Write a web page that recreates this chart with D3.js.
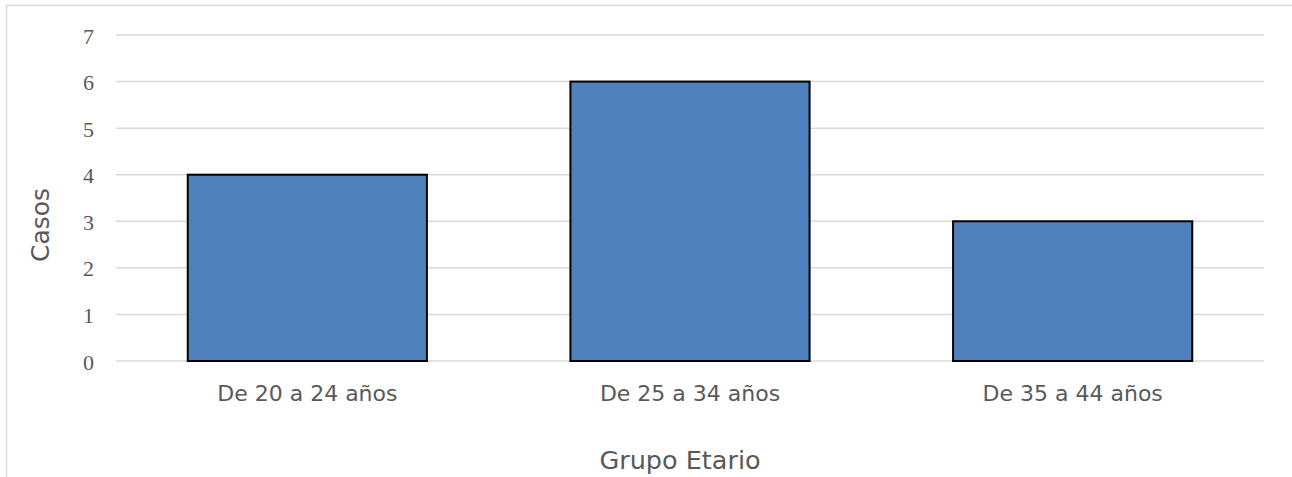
<!DOCTYPE html>
<html>
<head>
<script type="text/javascript" src="https://cdn.jsdelivr.net/npm/d3@7"></script>
<style>
  body { margin: 0; background: #fff; }
</style>
</head>
<body>
<script type="text/javascript">
  var w = 1292, h = 477;
  var categories = ["De 20 a 24 años", "De 25 a 34 años", "De 35 a 44 años"];
  var values = [4, 6, 3];
  var yTicks = [0, 1, 2, 3, 4, 5, 6, 7];
  var xTitle = "Grupo Etario";
  var yTitle = "Casos";

  var plot = { left: 116, right: 1264, top: 35, bottom: 361 };
  var sans = "'Century Gothic', 'DejaVu Sans', sans-serif";

  var svg = d3.select("body").append("svg")
    .attr("width", w)
    .attr("height", h);

  // chart frame
  svg.append("rect")
    .attr("x", 6.5).attr("y", 5.5)
    .attr("width", w + 10).attr("height", h + 10)
    .attr("fill", "none")
    .attr("stroke", "#d9d9d9")
    .attr("stroke-width", 1.5);

  var xScale = d3.scaleBand()
    .domain(categories)
    .range([plot.left, plot.right])
    .paddingInner(0.375)
    .paddingOuter(0.1875);

  var yScale = d3.scaleLinear()
    .domain([0, 7])
    .range([plot.bottom, plot.top]);

  // gridlines
  svg.append("g")
    .selectAll("line")
    .data(yTicks)
    .enter().append("line")
    .attr("x1", plot.left).attr("x2", plot.right)
    .attr("y1", function (d) { return yScale(d); })
    .attr("y2", function (d) { return yScale(d); })
    .attr("stroke", "#d9d9d9")
    .attr("stroke-width", 1.5);

  // y tick labels
  var yAxis = d3.axisLeft(yScale).tickValues(yTicks).tickFormat(d3.format("d"))
    .tickSize(0).tickPadding(0);
  svg.append("g")
    .attr("transform", "translate(94,1)")
    .call(yAxis)
    .call(function (g) {
      g.select(".domain").remove();
      g.selectAll(".tick text")
        .attr("fill", "#595959")
        .attr("font-family", "'Liberation Serif', 'DejaVu Serif', serif")
        .attr("font-size", "22px");
    });

  // bars
  svg.append("g")
    .selectAll("rect")
    .data(values)
    .enter().append("rect")
    .attr("x", function (d, i) { return xScale(categories[i]); })
    .attr("y", function (d) { return yScale(d); })
    .attr("width", xScale.bandwidth())
    .attr("height", function (d) { return yScale(0) - yScale(d); })
    .attr("fill", "#4f81bd")
    .attr("stroke", "#000")
    .attr("stroke-width", 2);

  // x tick labels
  var xAxis = d3.axisBottom(xScale).tickSize(0).tickPadding(0);
  svg.append("g")
    .attr("transform", "translate(0,401)")
    .call(xAxis)
    .call(function (g) {
      g.select(".domain").remove();
      g.selectAll(".tick text")
        .attr("dy", 0)
        .attr("fill", "#595959")
        .attr("font-family", sans)
        .attr("font-size", "22px");
    });

  // axis titles
  svg.append("text")
    .attr("x", 680).attr("y", 469)
    .attr("text-anchor", "middle")
    .attr("fill", "#595959")
    .attr("font-family", sans)
    .attr("font-size", "25.5px")
    .text(xTitle);

  svg.append("text")
    .attr("transform", "translate(49,225) rotate(-90)")
    .attr("text-anchor", "middle")
    .attr("fill", "#595959")
    .attr("font-family", sans)
    .attr("font-size", "25px")
    .text(yTitle);
</script>
</body>
</html>
